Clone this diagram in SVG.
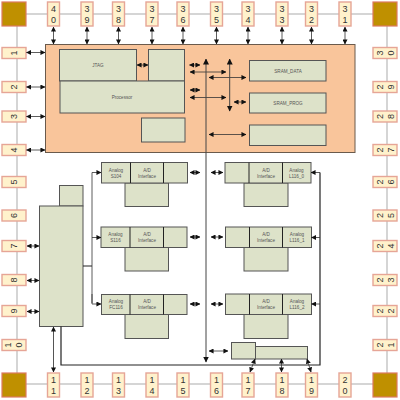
<svg xmlns="http://www.w3.org/2000/svg" width="400" height="400" viewBox="0 0 400 400">
<style>
.ring{fill:none;stroke:#c8c8c8;stroke-width:1.5}
.corner{fill:#bf9000;stroke:#dc7a60;stroke-width:1.2}
.pin rect{fill:#fff2cc;stroke:#e6a596;stroke-width:1.4}
.pin text{font:9px "Liberation Sans",sans-serif;fill:#333;text-anchor:middle}
.chip{fill:#f9c59b;stroke:#6a5a4c;stroke-width:1}
.b{fill:#dde2c9;stroke:#555;stroke-width:1}
.t{font:4.6px "Liberation Sans",sans-serif;fill:#555;text-anchor:middle}
.a{fill:none;stroke:#333;stroke-width:.8;marker-start:url(#h);marker-end:url(#h)}
.v{fill:none;stroke:#555;stroke-width:1;marker-start:url(#h);marker-end:url(#h)}
.w{fill:none;stroke:#444;stroke-width:1;marker-start:url(#H);marker-end:url(#H)}
.e{fill:none;stroke:#333;stroke-width:.8;marker-end:url(#h)}
.k{fill:none;stroke:#222;stroke-width:1}
</style>
<defs>
<marker id="h" viewBox="0 0 6 6" refX="5.5" refY="3" markerUnits="userSpaceOnUse" markerWidth="5" markerHeight="5" orient="auto-start-reverse"><path d="M0 0L6 3L0 6Z" fill="#111"/></marker>
<marker id="H" viewBox="0 0 6 6" refX="5.5" refY="3" markerUnits="userSpaceOnUse" markerWidth="6" markerHeight="6" orient="auto-start-reverse"><path d="M0 0L6 3L0 6Z" fill="#111"/></marker>
</defs>
<path class="ring" d="M17 14H387V384H17Z"/>
<g id="corners">
<rect class="corner" x="2" y="2" width="24" height="24"/><rect class="corner" x="373" y="2" width="24" height="24"/><rect class="corner" x="2" y="373" width="24" height="24"/><rect class="corner" x="373" y="373" width="24" height="24"/>
</g>
<g id="pins-top">
<g id="p40" class="pin"><rect x="47.5" y="2" width="12" height="24"/><text x="53.5" y="12">4</text><text x="53.5" y="23">0</text></g>
<g id="p39" class="pin"><rect x="81" y="2" width="12" height="24"/><text x="87" y="12">3</text><text x="87" y="23">9</text></g>
<g id="p38" class="pin"><rect x="112.5" y="2" width="12" height="24"/><text x="118.5" y="12">3</text><text x="118.5" y="23">8</text></g>
<g id="p37" class="pin"><rect x="146" y="2" width="12" height="24"/><text x="152" y="12">3</text><text x="152" y="23">7</text></g>
<g id="p36" class="pin"><rect x="177" y="2" width="12" height="24"/><text x="183" y="12">3</text><text x="183" y="23">6</text></g>
<g id="p35" class="pin"><rect x="210.5" y="2" width="12" height="24"/><text x="216.5" y="12">3</text><text x="216.5" y="23">5</text></g>
<g id="p34" class="pin"><rect x="242" y="2" width="12" height="24"/><text x="248" y="12">3</text><text x="248" y="23">4</text></g>
<g id="p33" class="pin"><rect x="276" y="2" width="12" height="24"/><text x="282" y="12">3</text><text x="282" y="23">3</text></g>
<g id="p32" class="pin"><rect x="305.5" y="2" width="12" height="24"/><text x="311.5" y="12">3</text><text x="311.5" y="23">2</text></g>
<g id="p31" class="pin"><rect x="339" y="2" width="12" height="24"/><text x="345" y="12">3</text><text x="345" y="23">1</text></g>
</g>
<g id="pins-bottom">
<g id="p11" class="pin"><rect x="47.5" y="373" width="12" height="24"/><text x="53.5" y="383">1</text><text x="53.5" y="394">1</text></g>
<g id="p12" class="pin"><rect x="81" y="373" width="12" height="24"/><text x="87" y="383">1</text><text x="87" y="394">2</text></g>
<g id="p13" class="pin"><rect x="112.5" y="373" width="12" height="24"/><text x="118.5" y="383">1</text><text x="118.5" y="394">3</text></g>
<g id="p14" class="pin"><rect x="146" y="373" width="12" height="24"/><text x="152" y="383">1</text><text x="152" y="394">4</text></g>
<g id="p15" class="pin"><rect x="177" y="373" width="12" height="24"/><text x="183" y="383">1</text><text x="183" y="394">5</text></g>
<g id="p16" class="pin"><rect x="210.5" y="373" width="12" height="24"/><text x="216.5" y="383">1</text><text x="216.5" y="394">6</text></g>
<g id="p17" class="pin"><rect x="242" y="373" width="12" height="24"/><text x="248" y="383">1</text><text x="248" y="394">7</text></g>
<g id="p18" class="pin"><rect x="276" y="373" width="12" height="24"/><text x="282" y="383">1</text><text x="282" y="394">8</text></g>
<g id="p19" class="pin"><rect x="305.5" y="373" width="12" height="24"/><text x="311.5" y="383">1</text><text x="311.5" y="394">9</text></g>
<g id="p20" class="pin"><rect x="339" y="373" width="12" height="24"/><text x="345" y="383">2</text><text x="345" y="394">0</text></g>
</g>
<g id="pins-left">
<g id="p1" class="pin"><rect x="2" y="47.5" width="24" height="11"/><text transform="translate(14 53) rotate(-90)" y="3">1</text></g>
<g id="p2" class="pin"><rect x="2" y="81.5" width="24" height="11"/><text transform="translate(14 87) rotate(-90)" y="3">2</text></g>
<g id="p3" class="pin"><rect x="2" y="111" width="24" height="11"/><text transform="translate(14 116.5) rotate(-90)" y="3">3</text></g>
<g id="p4" class="pin"><rect x="2" y="144.5" width="24" height="11"/><text transform="translate(14 150) rotate(-90)" y="3">4</text></g>
<g id="p5" class="pin"><rect x="2" y="176.5" width="24" height="11"/><text transform="translate(14 182) rotate(-90)" y="3">5</text></g>
<g id="p6" class="pin"><rect x="2" y="210" width="24" height="11"/><text transform="translate(14 215.5) rotate(-90)" y="3">6</text></g>
<g id="p7" class="pin"><rect x="2" y="240.5" width="24" height="11"/><text transform="translate(14 246) rotate(-90)" y="3">7</text></g>
<g id="p8" class="pin"><rect x="2" y="274.5" width="24" height="11"/><text transform="translate(14 280) rotate(-90)" y="3">8</text></g>
<g id="p9" class="pin"><rect x="2" y="305.5" width="24" height="11"/><text transform="translate(14 311) rotate(-90)" y="3">9</text></g>
<g id="p10" class="pin"><rect x="2" y="339.5" width="24" height="11"/><text transform="translate(8 345) rotate(-90)" y="3">1</text><text transform="translate(19 345) rotate(-90)" y="3">0</text></g>
</g>
<g id="pins-right">
<g id="p30" class="pin"><rect x="373" y="47.5" width="24" height="11"/><text transform="translate(379.5 53) rotate(-90)" y="3">3</text><text transform="translate(390.5 53) rotate(-90)" y="3">0</text></g>
<g id="p29" class="pin"><rect x="373" y="81.5" width="24" height="11"/><text transform="translate(379.5 87) rotate(-90)" y="3">2</text><text transform="translate(390.5 87) rotate(-90)" y="3">9</text></g>
<g id="p28" class="pin"><rect x="373" y="111" width="24" height="11"/><text transform="translate(379.5 116.5) rotate(-90)" y="3">2</text><text transform="translate(390.5 116.5) rotate(-90)" y="3">8</text></g>
<g id="p27" class="pin"><rect x="373" y="144.5" width="24" height="11"/><text transform="translate(379.5 150) rotate(-90)" y="3">2</text><text transform="translate(390.5 150) rotate(-90)" y="3">7</text></g>
<g id="p26" class="pin"><rect x="373" y="176.5" width="24" height="11"/><text transform="translate(379.5 182) rotate(-90)" y="3">2</text><text transform="translate(390.5 182) rotate(-90)" y="3">6</text></g>
<g id="p25" class="pin"><rect x="373" y="210" width="24" height="11"/><text transform="translate(379.5 215.5) rotate(-90)" y="3">2</text><text transform="translate(390.5 215.5) rotate(-90)" y="3">5</text></g>
<g id="p24" class="pin"><rect x="373" y="240.5" width="24" height="11"/><text transform="translate(379.5 246) rotate(-90)" y="3">2</text><text transform="translate(390.5 246) rotate(-90)" y="3">4</text></g>
<g id="p23" class="pin"><rect x="373" y="274.5" width="24" height="11"/><text transform="translate(379.5 280) rotate(-90)" y="3">2</text><text transform="translate(390.5 280) rotate(-90)" y="3">3</text></g>
<g id="p22" class="pin"><rect x="373" y="305.5" width="24" height="11"/><text transform="translate(379.5 311) rotate(-90)" y="3">2</text><text transform="translate(390.5 311) rotate(-90)" y="3">2</text></g>
<g id="p21" class="pin"><rect x="373" y="339.5" width="24" height="11"/><text transform="translate(379.5 345) rotate(-90)" y="3">2</text><text transform="translate(390.5 345) rotate(-90)" y="3">1</text></g>
</g>
<g id="chip"><rect class="chip" x="45.5" y="44.5" width="309.5" height="108"/></g>
<g id="jtag"><rect class="b" x="59.5" y="49.5" width="77" height="31.5"/><text class="t" x="98" y="66.5">JTAG</text></g>
<g id="cpu-top"><rect class="b" x="148.5" y="49.5" width="36" height="31.5"/></g>
<g id="processor"><rect class="b" x="60" y="81" width="124.5" height="32"/><text class="t" x="122" y="99">Processor</text></g>
<g id="block-a"><rect class="b" x="141.5" y="118" width="43.5" height="24"/></g>
<g id="sram-data"><rect class="b" x="249.5" y="60.5" width="76.5" height="20.5"/><text class="t" x="288" y="72.5">SRAM_DATA</text></g>
<g id="sram-prog"><rect class="b" x="249.5" y="93" width="76.5" height="20"/><text class="t" x="288" y="104.5">SRAM_PROG</text></g>
<g id="block-b"><rect class="b" x="249.5" y="125" width="76.5" height="20.5"/></g>
<g id="ctrl"><rect class="b" x="59.5" y="185.5" width="23.5" height="20.5"/><rect class="b" x="39.5" y="206" width="43.5" height="120.5"/></g>
<g id="adc-s104"><rect class="b" x="125" y="183" width="43.5" height="23.5"/><rect class="b" x="101.5" y="162.5" width="86" height="20.5"/><path class="k" d="M130.5 162.5V183M163.5 162.5V183"/><text class="t" x="116" y="171.5">Analog</text><text class="t" x="116" y="177.5">S104</text><text class="t" x="147" y="171.5">A/D</text><text class="t" x="147" y="177.5">Interface</text></g>
<g id="adc-s116"><rect class="b" x="125" y="247.5" width="43.5" height="23.5"/><rect class="b" x="101" y="227" width="86" height="20.5"/><path class="k" d="M130 227V247.5M163.5 227V247.5"/><text class="t" x="115.5" y="236">Analog</text><text class="t" x="115.5" y="242">S116</text><text class="t" x="147" y="236">A/D</text><text class="t" x="147" y="242">Interface</text></g>
<g id="adc-fc116"><rect class="b" x="125" y="314.5" width="43.5" height="24"/><rect class="b" x="101.5" y="294.5" width="85.5" height="20"/><path class="k" d="M130 294.5V314.5M163.5 294.5V314.5"/><text class="t" x="116" y="303">Analog</text><text class="t" x="116" y="309">FC116</text><text class="t" x="147" y="303">A/D</text><text class="t" x="147" y="309">Interface</text></g>
<g id="adc-l116-0"><rect class="b" x="244" y="183" width="44" height="23.5"/><rect class="b" x="225" y="162.5" width="86" height="20.5"/><path class="k" d="M249 162.5V183M282.5 162.5V183"/><text class="t" x="266" y="171.5">A/D</text><text class="t" x="266" y="177.5">Interface</text><text class="t" x="296.5" y="171.5">Analog</text><text class="t" x="296.5" y="177.5">L116_0</text></g>
<g id="adc-l116-1"><rect class="b" x="244" y="247.5" width="44" height="23.5"/><rect class="b" x="225.5" y="227" width="86" height="20.5"/><path class="k" d="M249.5 227V247.5M282.5 227V247.5"/><text class="t" x="266" y="236">A/D</text><text class="t" x="266" y="242">Interface</text><text class="t" x="297" y="236">Analog</text><text class="t" x="297" y="242">L116_1</text></g>
<g id="adc-l116-2"><rect class="b" x="244" y="314.5" width="44" height="24"/><rect class="b" x="225.5" y="294" width="86" height="20.5"/><path class="k" d="M249.5 294V314.5M282.5 294V314.5"/><text class="t" x="266" y="303">A/D</text><text class="t" x="266" y="309">Interface</text><text class="t" x="297" y="303">Analog</text><text class="t" x="297" y="309">L116_2</text></g>
<g id="bottom-block"><rect class="b" x="255.5" y="346.5" width="52" height="12.5"/><rect class="b" x="231.5" y="342.5" width="24" height="16.5"/></g>
<g id="connectors">
<path class="a" d="M53.5 27V44"/><path class="a" d="M87 27V44"/><path class="a" d="M118.5 27V44"/><path class="a" d="M152 27V44"/><path class="a" d="M183 27V44"/><path class="a" d="M216.5 27V44"/><path class="a" d="M248 27V44"/><path class="a" d="M282 27V44"/><path class="a" d="M311.5 27V44"/><path class="a" d="M345 27V44"/>
<path class="a" d="M26.5 52.5H45"/><path class="a" d="M26.5 87H45"/><path class="a" d="M26.5 116.500H45"/><path class="a" d="M26.500 150H45"/><path class="a" d="M27 246H39"/><path class="a" d="M27 280.500H39"/><path class="a" d="M27 311.500H39"/>
<path class="a" d="M137 65H148"/><path class="a" d="M189.500 65H200"/><path class="a" d="M190 90H200"/><path class="a" d="M234 102H246"/><path class="a" d="M190 172.500H200"/><path class="a" d="M211 172.500H223"/><path class="a" d="M190 237H200"/><path class="a" d="M211 237H223"/><path class="a" d="M190 304H200"/><path class="a" d="M211 304H223"/>
<path class="a" d="M190 72H226"/><path class="a" d="M209 77.500H246"/><path class="a" d="M190 97.500H226"/><path class="a" d="M209 134.500H246"/><path class="a" d="M209 351H228"/>
<path class="w" d="M206 59V362"/><path class="w" d="M229.700 59V111"/>
<path class="v" d="M53.500 327V372"/>
<path class="k" d="M83 266H92"/>
<path class="e" d="M92 303V172.500H101"/><path class="e" d="M92 237.500H101"/><path class="e" d="M92 294V304H101"/>
<path class="k" style="stroke-width:1.200" d="M61 326.500V365H320V172.500"/>
<path class="e" d="M320 172.500H311"/><path class="e" d="M320 237.500H311.500"/><path class="e" d="M320 304H311.500"/>
<path class="a" d="M255 359L250 372"/><path class="a" d="M281.500 359V372"/><path class="a" d="M307 359L311 372"/>
</g>
</svg>
